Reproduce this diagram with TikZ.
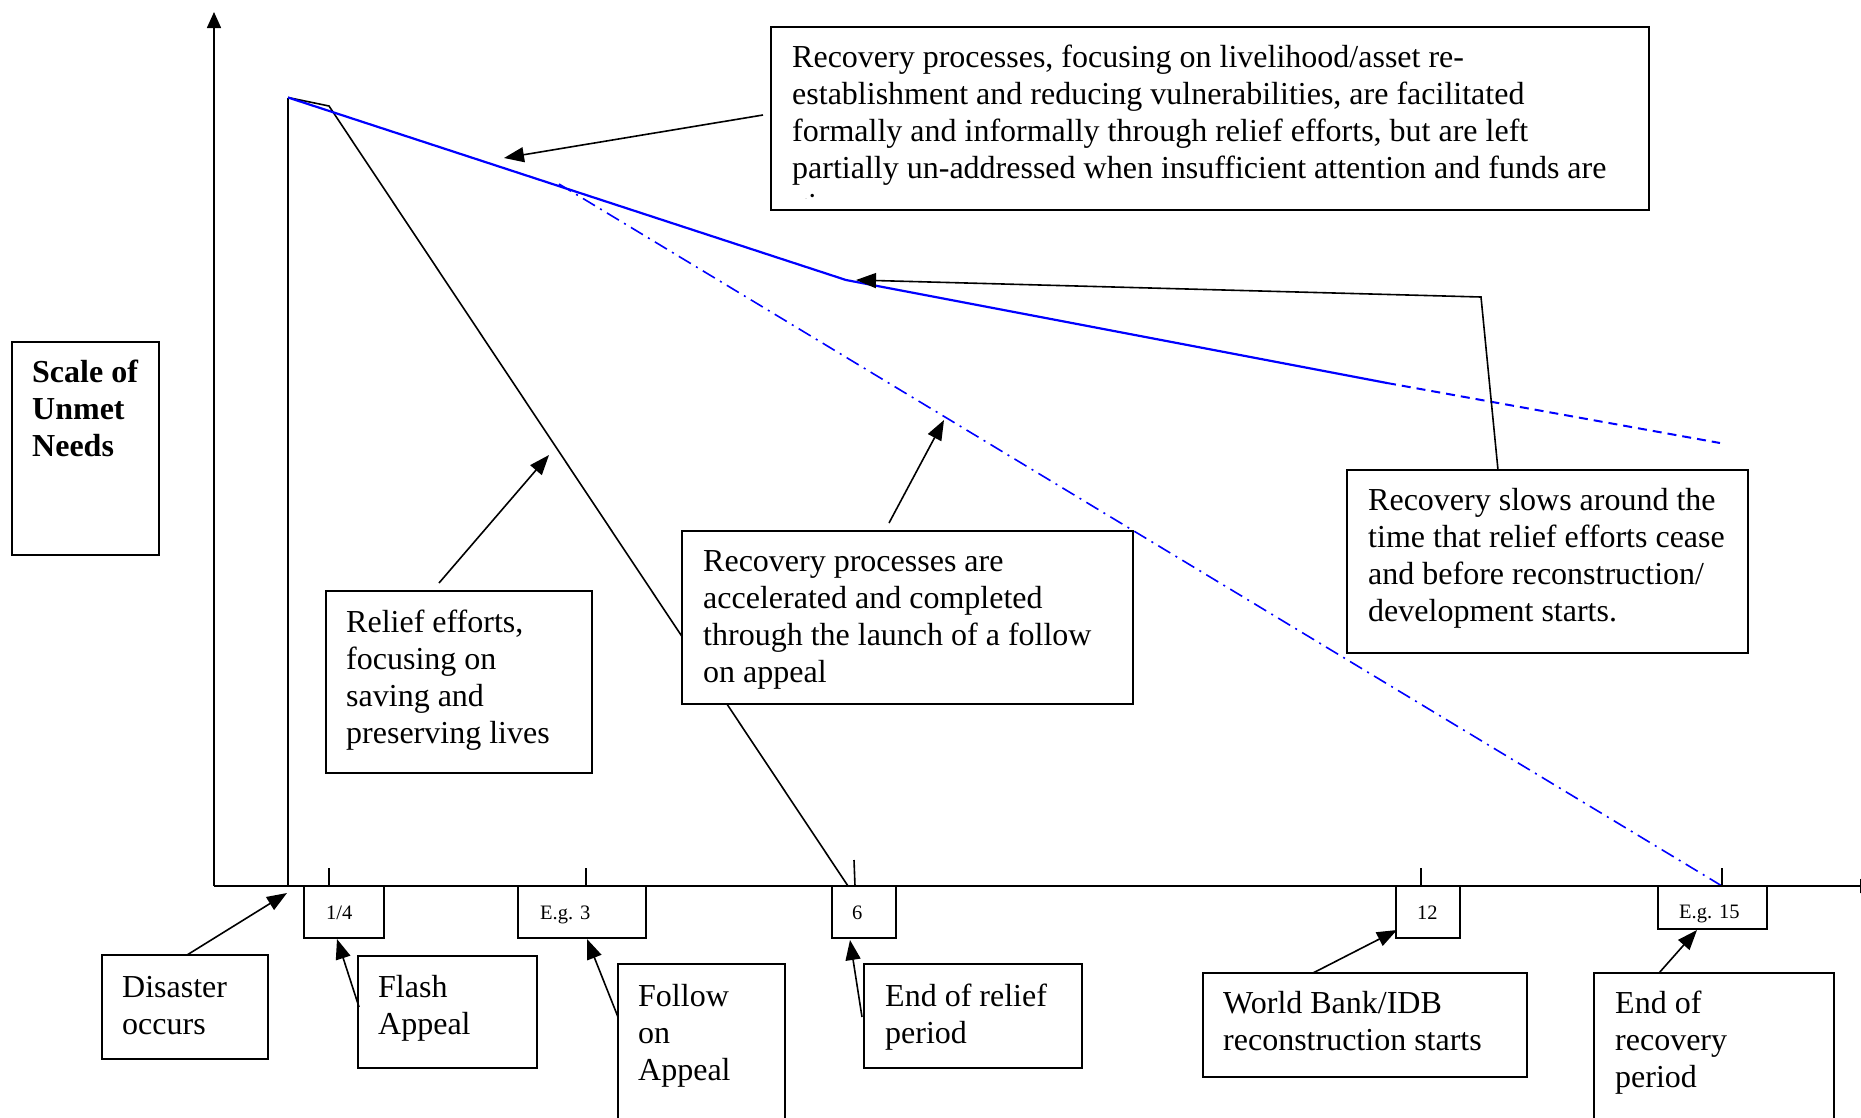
\documentclass[tikz,border=0pt]{standalone}
\usepackage{fontspec}
\setmainfont{Liberation Serif}
\usetikzlibrary{arrows.meta,calc}
\newcommand\mainsz{\fontsize{32}{37}\selectfont}
\newcommand\smallsz{\fontsize{20.5}{24}\selectfont}
\newcommand\lns[1]{\begin{tabular}[t]{@{}l@{}}#1\end{tabular}}
\newcommand\bx[5]{%
  \pgfmathsetmacro\bxw{#4-#2}\pgfmathsetmacro\bxh{#5-#3}%
  \pgfmathsetmacro\bxx{(#2+#4)/2}\pgfmathsetmacro\bxy{(#3+#5)/2}%
  \node[tbx, minimum width=\bxw pt, minimum height=\bxh pt] (#1) at (\bxx,\bxy) {};}
\begin{document}
\begin{tikzpicture}[x=1pt,y=-1pt,
  tbx/.style={draw, line width=1.8pt, fill=white, inner sep=0pt, outer sep=0pt},
  txt/.style={anchor=base west, inner sep=0pt, font=\mainsz},
  stxt/.style={anchor=base west, inner sep=0pt, font=\smallsz},
  conn/.style={line width=1.6pt, -{Triangle[length=20pt,width=15pt]}},
  plainln/.style={line width=1.6pt},
  axisln/.style={line width=1.6pt, -{Triangle[length=16pt,width=14pt]}},
  bluesolid/.style={blue, line width=2.2pt},
  bluedash/.style={blue, line width=2pt, dash pattern=on 9pt off 6pt},
  bluedashdot/.style={blue, line width=1.6pt, dash pattern=on 14pt off 6pt on 2pt off 6pt},
]
\useasboundingbox (0,0) rectangle (1861,1117);
% key points
\coordinate (O) at (214,886);
\coordinate (Ytop) at (214,12);
\coordinate (Xend) at (1876,886);
\coordinate (D0) at (288,886);
\coordinate (P) at (288,97.5);
\coordinate (R1) at (329,106);
\coordinate (R2) at (848,886);
\coordinate (B1) at (846,280);
\coordinate (B2) at (1387,383);
\coordinate (B3) at (1720,443);
\coordinate (C1) at (559,184);
\coordinate (C2) at (1722,886);
\coordinate (T1a) at (329,868); \coordinate (T1b) at (329,886);
\coordinate (T2a) at (586,868); \coordinate (T2b) at (586,886);
\coordinate (T3a) at (854,860); \coordinate (T3b) at (855,886);
\coordinate (T4a) at (1421,868); \coordinate (T4b) at (1421,886);
\coordinate (T5a) at (1722,868); \coordinate (T5b) at (1722,886);
% axes and curves
\draw[axisln] (O) -- (Ytop);
\draw[axisln] (O) -- (Xend);
\draw[plainln] (D0) -- (P);
\draw[plainln] (P) -- (R1) -- (R2);
\draw[bluesolid] (P) -- (B1) -- (B2);
\draw[bluedash] (B2) -- (B3);
\draw[bluedashdot] (C1) -- (C2);
\foreach \t in {T1,T2,T3,T4,T5} {\draw[plainln] (\t a) -- (\t b);}
% boxes
\bx{topbox}{771}{27}{1649}{210}
\bx{slows}{1347}{470}{1748}{653}
\bx{accel}{682}{531}{1133}{704}
\bx{relief}{326}{591}{592}{773}
\bx{scale}{12}{342}{159}{555}
\bx{disaster}{102}{955}{268}{1059}
\bx{flash}{358}{956}{537}{1068}
\bx{follow}{618}{964}{785}{1135}
\bx{endrelief}{864}{964}{1082}{1068}
\bx{worldbank}{1203}{973}{1527}{1077}
\bx{endrecov}{1594}{973}{1834}{1135}
\bx{m14}{304}{886}{384}{938}
\bx{m3}{518}{886}{646}{938}
\bx{m6}{832}{886}{896}{938}
\bx{m12}{1396}{886}{1460}{938}
\bx{m15}{1658}{886}{1767}{929}
% texts
\begin{scope}
\clip (773,29) rectangle (1647,198.5);
\node[txt] (ttop) at (792,67.5) {\lns{Recovery processes, focusing on livelihood/asset re-\\establishment and reducing vulnerabilities, are facilitated\\formally and informally through relief efforts, but are left\\partially un-addressed when insufficient attention and funds are\\given.}};
\end{scope}
\node[txt] (tslows) at (1368,510.5) {\lns{Recovery slows around the\\time that relief efforts cease\\and before reconstruction/\\development starts.}};
\node[txt] (taccel) at (703,571.5) {\lns{Recovery processes are\\accelerated and completed\\through the launch of a follow\\on appeal}};
\node[txt] (trelief) at (346,632.5) {\lns{Relief efforts,\\focusing on\\saving and\\preserving lives}};
\node[txt, font=\mainsz\bfseries] (tscale) at (32,382.5) {\lns{Scale of\\Unmet\\Needs}};
\node[txt] (tdisaster) at (122,997.5) {\lns{Disaster\\occurs}};
\node[txt] (tflash) at (378,997.5) {\lns{Flash\\Appeal}};
\node[txt] (tfollow) at (638,1006.5) {\lns{Follow\\on\\Appeal}};
\node[txt] (tendrelief) at (885,1006.5) {\lns{End of relief\\period}};
\node[txt] (tworldbank) at (1223,1013.5) {\lns{World Bank/IDB\\reconstruction starts}};
\node[txt] (tendrecov) at (1615,1013.5) {\lns{End of\\recovery\\period}};
\node[stxt] (l14) at (326,919) {1/4};
\node[stxt] (l3) at (540,919) {E.g. 3};
\node[stxt] (l6) at (852,919) {6};
\node[stxt] (l12) at (1417,919) {12};
\node[stxt] (l15) at (1679,918) {E.g. 15};
% connectors
\coordinate (a1tip) at (504,158);
\draw[conn] ($(topbox.west)+(-8,-3.5)$) -- (a1tip);
\coordinate (s1) at (1481,297);
\coordinate (s2) at (856,280);
\draw[conn] ($(slows.north west)+(151,0)$) -- (s1) -- (s2);
\coordinate (acctip) at (944,420);
\draw[conn] ($(accel.north west)+(207,-8)$) -- (acctip);
\coordinate (reltip) at (549,455);
\draw[conn] ($(relief.north west)+(113,-8)$) -- (reltip);
\coordinate (dtip) at (287,893);
\draw[conn] ($(disaster.north west)+(85,0)$) -- (dtip);
\draw[conn] ($(flash.north west)+(1,51)$) -- ($(m14.south west)+(33,1)$);
\draw[conn] ($(follow.north west)+(0,53)$) -- ($(m3.south west)+(69,1)$);
\draw[conn] ($(endrelief.north west)+(-2,53)$) -- ($(m6.south west)+(18,2)$);
\draw[conn] ($(worldbank.north west)+(110,0)$) -- ($(m12.south west)+(1,-8)$);
\draw[conn] ($(endrecov.north west)+(65,0)$) -- ($(m15.south west)+(39,1)$);
\end{tikzpicture}
\end{document}
